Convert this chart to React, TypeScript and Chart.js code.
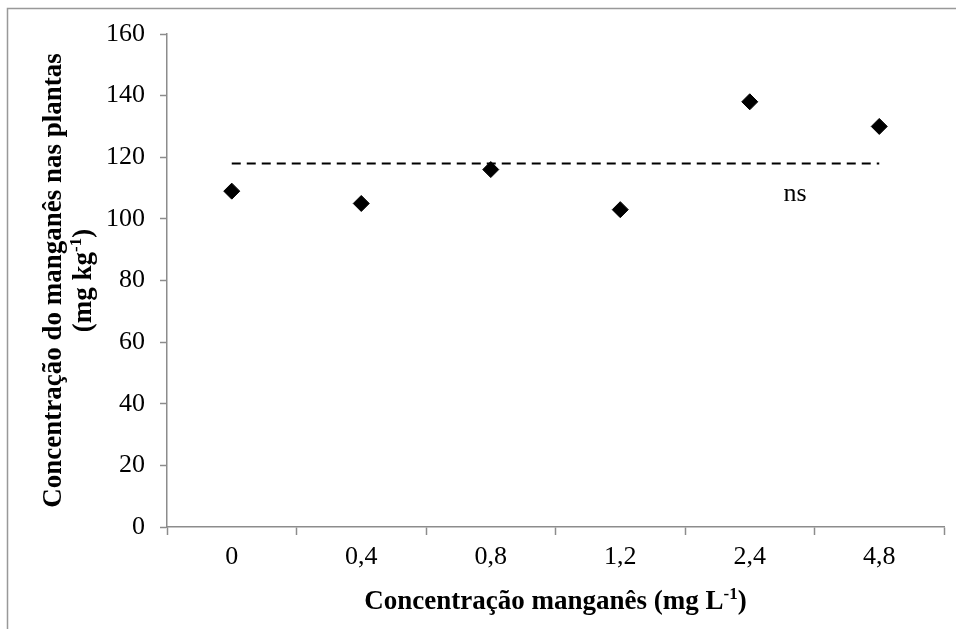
import React, { useEffect, useRef } from "react";
import { Chart, registerables } from "chart.js";

Chart.register(...registerables);

const categories = ["0", "0,4", "0,8", "1,2", "2,4", "4,8"];
const manganeseValues = [109, 105, 116, 103, 138, 130];
const meanLineValue = 118;
const yTicks = [0, 20, 40, 60, 80, 100, 120, 140, 160];
const nsLabel = "ns";
const nsPosition = { x: 4.35, y: 108 };
const yTitleLine1 = [{ t: "Concentração do manganês nas plantas", sup: false }];
const yTitleLine2 = [
  { t: "(mg kg", sup: false },
  { t: "-1", sup: true },
  { t: ")", sup: false },
];
const xTitle = [
  { t: "Concentração manganês (mg L", sup: false },
  { t: "-1", sup: true },
  { t: ")", sup: false },
];

const FONT = '"Liberation Serif", "Times New Roman", serif';
const TICK_SIZE = 26;
const TITLE_SIZE = 27;
const AXIS_COLOR = "#8c8c8c";

type Seg = { t: string; sup: boolean };

function drawSegs(ctx: CanvasRenderingContext2D, segs: Seg[], cx: number, cy: number, size: number) {
  const supSize = Math.round(size * 0.62);
  let total = 0;
  const widths = segs.map((s) => {
    ctx.font = `bold ${s.sup ? supSize : size}px ${FONT}`;
    const w = ctx.measureText(s.t).width;
    total += w;
    return w;
  });
  let x = cx - total / 2;
  ctx.textBaseline = "alphabetic";
  ctx.textAlign = "left";
  segs.forEach((s, i) => {
    ctx.font = `bold ${s.sup ? supSize : size}px ${FONT}`;
    ctx.fillText(s.t, x, cy + size * 0.35 - (s.sup ? size * 0.38 : 0));
    x += widths[i];
  });
}

const decorPlugin = {
  id: "decor",
  afterDraw(chart: any) {
    const ctx = chart.ctx as CanvasRenderingContext2D;
    const area = chart.chartArea;
    const xs = chart.scales.x;
    const ys = chart.scales.y;
    ctx.save();
    // outer frame (left and top)
    ctx.strokeStyle = "#999999";
    ctx.lineWidth = 1.5;
    ctx.beginPath();
    ctx.moveTo(7.5, chart.height);
    ctx.lineTo(7.5, 8.5);
    ctx.lineTo(chart.width, 8.5);
    ctx.stroke();
    ctx.fillStyle = "#000";
    // ns label
    ctx.font = `${TICK_SIZE}px ${FONT}`;
    ctx.textAlign = "center";
    ctx.textBaseline = "middle";
    ctx.fillText(nsLabel, xs.getPixelForValue(nsPosition.x), ys.getPixelForValue(nsPosition.y));
    // x title
    const cxx = (area.left + area.right) / 2;
    drawSegs(ctx, xTitle, cxx, 600, TITLE_SIZE);
    // y title
    const cy = (area.top + area.bottom) / 2;
    ctx.save();
    ctx.translate(52, cy);
    ctx.rotate(-Math.PI / 2);
    drawSegs(ctx, yTitleLine1, 0, 0, TITLE_SIZE);
    ctx.restore();
    ctx.save();
    ctx.translate(82, cy);
    ctx.rotate(-Math.PI / 2);
    drawSegs(ctx, yTitleLine2, 0, 0, TITLE_SIZE);
    ctx.restore();
    ctx.restore();
  },
};

export default function App() {
  const ref = useRef<HTMLCanvasElement | null>(null);
  useEffect(() => {
    document.body.style.margin = "0";
    const canvas = ref.current!;
    const meanData = categories.map(() => meanLineValue);
    const chart = new Chart(canvas, {
      type: "line",
      data: {
        labels: categories,
        datasets: [
          {
            label: "Mn",
            data: manganeseValues,
            showLine: false,
            pointStyle: "rectRot",
            pointRadius: 8,
            pointBackgroundColor: "#000",
            pointBorderColor: "#000",
            pointBorderWidth: 1,
            order: 1,
          },
          {
            label: "Média",
            data: meanData,
            borderColor: "#000",
            borderWidth: 2,
            borderDash: [9, 6],
            pointRadius: 0,
            fill: false,
            order: 2,
          },
        ],
      },
      options: {
        responsive: false,
        animation: false,
        events: [],
        layout: { padding: { top: 34, right: 12, left: 0, bottom: 0 } },
        plugins: { legend: { display: false }, tooltip: { enabled: false }, title: { display: false } },
        scales: {
          x: {
            type: "category",
            offset: true,
            grid: {
              display: true,
              drawOnChartArea: false,
              drawTicks: true,
              tickLength: 8,
              offset: true,
              color: AXIS_COLOR,
              tickWidth: 1.5,
            },
            border: { display: true, color: AXIS_COLOR, width: 1.5 },
            ticks: { color: "#000", font: { family: FONT, size: TICK_SIZE }, padding: 7, maxRotation: 0 },
            afterFit: (s: any) => {
              s.height = 629 - 527;
            },
          },
          y: {
            type: "linear",
            min: 0,
            max: 160,
            afterBuildTicks: (s: any) => {
              s.ticks = yTicks.map((v) => ({ value: v }));
            },
            grid: {
              display: true,
              drawOnChartArea: false,
              drawTicks: true,
              tickLength: 7,
              color: AXIS_COLOR,
              tickWidth: 1.5,
            },
            border: { display: true, color: AXIS_COLOR, width: 1.5 },
            ticks: { color: "#000", font: { family: FONT, size: TICK_SIZE }, padding: 15 },
            afterFit: (s: any) => {
              s.width = 167;
            },
          },
        },
      },
      plugins: [decorPlugin],
    });
    return () => chart.destroy();
  }, []);
  return (
    <div style={{ width: 956, height: 629, background: "#fff" }}>
      <canvas ref={ref} width={956} height={629} style={{ display: "block" }} />
    </div>
  );
}
